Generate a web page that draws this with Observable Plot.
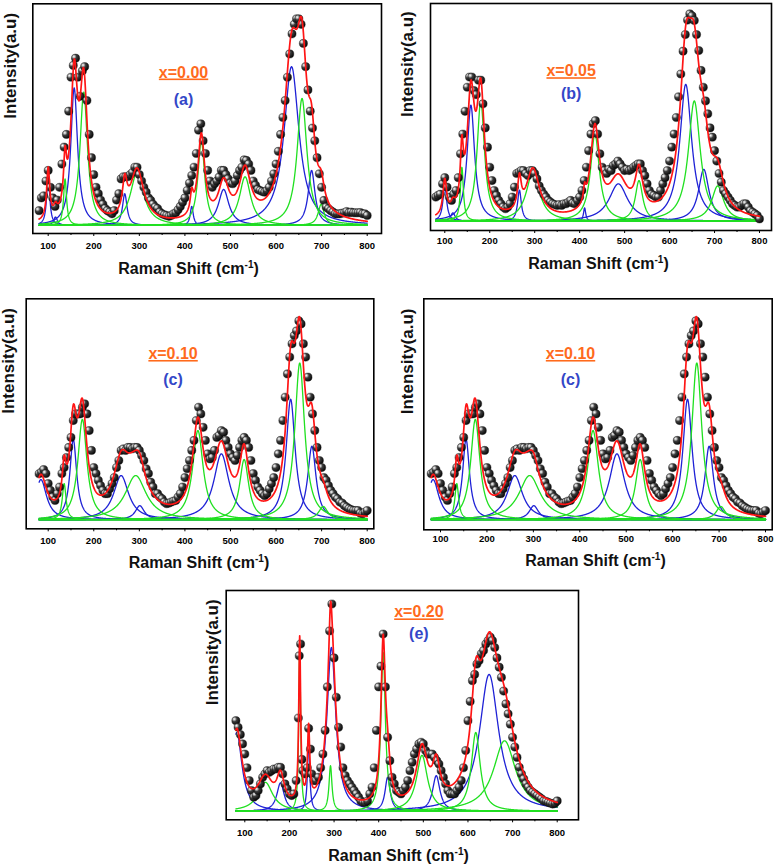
<!DOCTYPE html>
<html><head><meta charset="utf-8">
<script src="https://cdn.jsdelivr.net/npm/d3@7"></script>
<script src="https://cdn.jsdelivr.net/npm/@observablehq/plot@0.6"></script>
<style>
html,body{margin:0;padding:0;background:#fff;}
#fig{position:relative;width:780px;height:867px;overflow:hidden;font-family:"Liberation Sans",Arial,sans-serif;}
#fig svg text{font-weight:bold;}
</style></head><body>
<svg width="0" height="0" style="position:absolute"><defs>
<radialGradient id="ball" cx="0.3" cy="0.3" r="0.8">
<stop offset="0" stop-color="#ffffff"/><stop offset="0.16" stop-color="#bdbdbd"/>
<stop offset="0.4" stop-color="#3c3c3c"/><stop offset="1" stop-color="#000000"/>
</radialGradient></defs></svg>
<div id="fig"></div>
<script>
// ---------- data ----------
const shift = [80,85,90,95,100,105,110,115,120,125,130,135,140,145,150,155,160,165,170,175,180,185,190,195,200,205,210,215,220,225,230,235,240,245,250,255,260,265,270,275,280,285,290,295,300,305,310,315,320,325,330,335,340,345,350,355,360,365,370,375,380,385,390,395,400,405,410,415,420,425,430,435,440,445,450,455,460,465,470,475,480,485,490,495,500,505,510,515,520,525,530,535,540,545,550,555,560,565,570,575,580,585,590,595,600,605,610,615,620,625,630,635,640,645,650,655,660,665,670,675,680,685,690,695,700,705,710,715,720,725,730,735,740,745,750,755,760,765,770,775,780,785,790,795,800];

const intensityA = [7,13,14,21,26,18,13,9,12,18,29,37,43,54,70,75.6,79,70,61,73,75,59,43,32,24,18,15,12,10,8,7,6.3,5.5,7,12,15,22,23,23,23,24,25,27.5,27.5,24,21,18,15.7,13,11.8,10,8.7,8,6.3,5.5,5,4.7,4.3,4.7,5.5,6,7.4,9,11,13,16.5,20,23.6,27.5,34,45,48,40,34,26,21,18,19.7,21,22.8,26,26,24,22,20,19.7,21,23.6,26,27.5,31,30.7,29,26,21,19,17,16.5,16,15.7,16.5,18,21,24.4,29,35,43,51,59,70,81,90.5,95,97.6,97.6,95,86,75,64,54,46,40,32,24.4,18,11.8,8.7,7.9,7,6.3,5.5,5.5,5.5,5.8,6,6.6,6,6.3,6,6,6,6.1,5.5,5.5,4.7];

const intensityB = [11.6,12.4,13,18,21,16.4,11.6,10,13,14.8,21,32.5,42,53,64.6,69.5,69.5,63,61,68,68,56.6,45,35.7,26,19.6,14.8,12.4,10,8.4,6.8,6,6.8,8.4,11.6,16.4,23,23.6,24.4,24.4,23,22,24.4,24.4,23,20.4,17,14.8,13,11.6,10,9.2,8.4,8,7.6,8,7.6,8.4,8.4,9.2,10,8.7,8.4,10,11.6,14.8,19.6,26,34,42,47,48.5,42,32.5,26,24.4,23,25,24.4,26.8,27.6,29,27.6,26,24.4,25,24.4,25,26,26.8,27.6,27.6,24.4,22,18,14.8,13,12.4,11.6,11.6,14.8,18,21,24.4,29,35.7,42,50,60,71,82,90,97,100,99,96.8,90,82.3,72.7,64.6,58,51.8,45,40.5,34,29,23,18.8,14.8,13.2,11.6,10,8.4,7.6,6.8,6.8,7.6,8.4,8.4,6.8,5,4.3,3.5,2.7,1.1];

const intensityC = [22.9,23.7,25,23,18,14.6,11.3,9.6,13,16.3,23,26,31,36,41,49.4,52.7,52.7,52.7,56,57.7,52.7,44.4,34.5,26,23,19.6,17,14.6,13,13,15.4,18,21,26,29.5,34.5,35.3,34.5,36,36,35.3,36,36,34.5,32,29.5,25.4,23,18.7,16.3,13,13,11.3,10.4,8.8,8,8.3,8.8,9.3,9.6,11.3,13,16.3,21,25.4,29.5,34.5,39.5,49.4,56,52.7,46,39.5,32.8,30.3,31,34.5,41,42,44.4,43.6,39.5,36,32.8,31,29.5,32,36,39.5,41,39.5,36,29.5,23,19.6,16.3,14.6,13,12,13,15.4,18,21,26,32.8,39.5,49.4,61,72.6,81,87.6,91.7,94,99,97.5,87.6,81,71,61,52.7,44.4,36,29.5,26,21,19.6,17,14.6,13,11.3,10.4,8.8,8.3,7,6.3,5.5,5,4.6,4.6,4.6,3.3,3,3.8,4.6];

const shiftE = [80,85,90,95,100,105,110,115,120,125,130,135,140,145,150,155,160,165,170,175,180,185,190,195,200,205,210,215,220,222,225,228,230,235,240,243,247,250,255,260,265,270,275,280,285,290,295,300,305,310,315,320,325,330,335,340,345,350,355,360,365,370,375,380,385,390,395,400,405,410,415,420,425,430,435,440,445,450,455,460,465,470,475,480,485,490,495,500,505,510,515,520,525,530,535,540,545,550,555,560,565,570,575,580,585,590,595,600,605,610,615,620,625,630,635,640,645,650,655,660,665,670,675,680,685,690,695,700,705,710,715,720,725,730,735,740,745,750,755,760,765,770,775,780,785,790,795,800];
const intensityE = [43.7,40.5,37,32.5,27.6,21,14.8,10,6.8,7.6,10,13.2,16.4,18,19.6,18.8,19.6,20.4,20.4,21.2,21.2,18,13.2,10.8,8.4,7.6,8.4,14.8,45,75,80.7,25,19.6,18,21,40,30,18,14.8,14.8,16.4,21,27.6,39,60,87,100,74,55,40.5,31,21,17.2,14.8,13.2,11.6,10,8.4,6.8,5,4.3,4.3,5,8.4,11.6,21,39,60,70,85.5,60,35.7,24.4,16.4,13.2,10,9.2,8.4,10,11.6,14.8,19.6,23.6,27.6,30,32.5,33.3,32.5,29.3,27.6,27.6,27.6,26,24.4,22.8,19.6,16.4,13.2,10,8.4,8.4,8.4,10,11.6,14.8,21,29.3,43.7,53,63,66,71,72.7,76,77.5,80.7,82.3,84,82.3,79,74,69.5,64.6,58,51.8,47,42,35.7,31,26,21.2,18,15.6,13.2,11.6,10,9.2,8.4,7.6,6.8,6,5,4.8,4.3,3.9,3.5,3.9,5];

// Lorentzian components: centre (cm-1), height, half width, colour group
const centersA = [100,116,137,157,178,268,295,415,436,485,532,634,657,678,699];
const heightsA = [24,4,22,65,63,15,25,9,40,17,23,75,60,26,10];
const widthsA  = [4,5,4,9,10,6,18,4,9,14,15,20,13,9,8];
const kindsA   = ["b","b","g","b","g","b","g","b","g","b","g","b","g","b","g"];

const centersB = [100,118,138,158,180,266,296,411,434,486,532,636,655,676,707];
const heightsB = [17,4,26,56,58,15,23.6,6.4,42,18,19.6,66,58,25,17];
const widthsB  = [5,6,4,10,10,5,18,3,12,25,10,16,16,14,16];
const kindsB   = ["b","b","g","b","g","b","g","b","g","b","g","b","g","b","g"];

const centersC = [84,135,155,175,260,292,301,428.5,480,530,632,652,678.6,703.5];
const heightsC = [20,18,40,50,22,22,7,44.4,32.8,30,60,78,36.6,6.6];
const widthsC  = [15,5,9,12,20,28,12,14,20,12,12,13,11,12];
const kindsC   = ["b","g","b","g","b","g","b","g","b","g","b","g","b","g"];

const centersE = [82,146,180,223,243,292,294,410,420,497,529,617.5,647.4,682];
const heightsE = [38,14,13.7,79,35,22,79,76.7,16.4,27,17.2,38,66,34];
const widthsE  = [14,20,10,2.5,3,4,12,6,7,15,10,12,26,30];
const kindsE   = ["b","g","b","g","b","g","b","g","b","g","b","g","b","g"];

const majorTicks = [100,200,300,400,500,600,700,800];
const minorTicks = [150,250,350,450,550,650,750];
const xTitle = "Raman Shift (cm-1)";
const yTitle = "Intensity(a.u)";
const compLabels = ["x=0.00","x=0.05","x=0.10","x=0.10","x=0.20"];
const panelTags = ["(a)","(b)","(c)","(c)","(e)"];

// ---------- drawing ----------
const fig = document.getElementById("fig");
const grid = d3.range(80, 800.001, 0.5);

function drawPanel(cfg) {
  const comps = cfg.centers.map((c, i) => ({c, h: cfg.heights[i], w: cfg.widths[i], kind: cfg.kinds[i], id: i}));
  const lor = (cp, x) => cp.h / (1 + ((x - cp.c) / cp.w) ** 2);
  const compRows = comps.flatMap(cp => grid.map(x => ({x, y: lor(cp, x), id: cp.id, kind: cp.kind})));
  const fitRows = grid.map(x => ({x, y: d3.sum(comps, cp => lor(cp, x))}));
  const pts = cfg.shift.map((x, i) => ({x, y: cfg.intensity[i]}));
  const svg = Plot.plot({
    width: cfg.w, height: cfg.h,
    marginLeft: cfg.m[0], marginRight: cfg.m[1], marginTop: cfg.m[2], marginBottom: cfg.m[3],
    style: {fontFamily: '"Liberation Sans", Arial, sans-serif', background: "transparent", overflow: "visible"},
    x: {domain: cfg.xDomain},
    y: {domain: cfg.yDomain, axis: null},
    marks: [
      Plot.line(compRows.filter(d => d.kind === "b"), {x: "x", y: "y", z: "id", stroke: "#1f22d6", strokeWidth: 1.3}),
      Plot.line(compRows.filter(d => d.kind === "g"), {x: "x", y: "y", z: "id", stroke: "#20e020", strokeWidth: 1.3}),
      Plot.dot(pts, {x: "x", y: "y", r: 4.1, fill: "url(#ball)", stroke: "#111", strokeWidth: 0.4}),
      Plot.line(fitRows, {x: "x", y: "y", stroke: "#ff1515", strokeWidth: 1.7}),
      Plot.frame({stroke: "#000", strokeWidth: 1.6}),
      Plot.axisX({ticks: majorTicks, tickSize: 3, tickPadding: cfg.tickPad, fontSize: 9.5, fontWeight: "bold", label: null, tickFormat: d => String(d), stroke: "#000", fill: "#000"}),
      Plot.axisX({ticks: minorTicks, tickSize: 2, tickFormat: () => "", label: null, stroke: "#000"}),
      Plot.text([xTitle], {text: d => d, frameAnchor: "bottom", dy: cfg.xTitleDy, dx: cfg.xTitleDx, fontSize: 16, fontWeight: "bold", lineAnchor: "middle", fill: "#111"}),
      Plot.text([yTitle], {text: d => d, frameAnchor: "left", rotate: -90, dx: -cfg.yTitleDx, fontSize: 17, fontWeight: "bold", lineAnchor: "middle", fill: "#111"}),
      Plot.text([{x: cfg.labelX, y: cfg.compY, t: cfg.comp}], {x: "x", y: "y", text: "t", fontSize: 16, fontWeight: "bold", fill: "#ff6a1c"}),
      Plot.text([{x: cfg.labelX, y: cfg.tagY, t: cfg.tag}], {x: "x", y: "y", text: "t", fontSize: 16, fontWeight: "bold", fill: "#3347c8"})
    ]
  });
  svg.style.position = "absolute";
  svg.style.left = cfg.left + "px";
  svg.style.top = cfg.top + "px";
  d3.select(svg).selectAll("text").each(function() {
    const t = this.textContent;
    if (t === xTitle) {
      const s = d3.select(this);
      s.text("");
      s.append("tspan").text("Raman Shift (cm");
      s.append("tspan").attr("dy", -6).attr("font-size", 10).text("-1");
      s.append("tspan").attr("dy", 6).text(")");
    } else if (compLabels.includes(t)) {
      d3.select(this).style("text-decoration", "underline");
    }
  });
  fig.appendChild(svg);
}

const panels = [
  {left: 0, top: 0, w: 390, h: 280, m: [32.3, 9, 3.3, 47], xDomain: [66.2, 831.4], yDomain: [-3.8, 104.7],
   tickPad: 6, xTitleDy: 35.7, xTitleDx: -18.6, yTitleDx: 22.3, labelX: 397, compY: 72.3, tagY: 59.5,
   shift: shift, intensity: intensityA, centers: centersA, heights: heightsA, widths: widthsA, kinds: kindsA},
  {left: 390, top: 0, w: 390, h: 280, m: [40, 9, 3, 50], xDomain: [68.2, 826.7], yDomain: [-4.5, 105],
   tickPad: 4, xTitleDy: 33.7, xTitleDx: -2.5, yTitleDx: 23.3, labelX: 381, compY: 72.4, tagY: 61.5,
   shift: shift, intensity: intensityB, centers: centersB, heights: heightsB, widths: widthsB, kinds: kindsB},
  {left: 0, top: 280, w: 390, h: 290, m: [25.7, 16.7, 18.3, 41.7], xDomain: [51.7, 814.5], yDomain: [-4.5, 110],
   tickPad: 5.5, xTitleDy: 33.7, xTitleDx: -1, yTitleDx: 17.7, labelX: 374, compY: 82.6, tagY: 69.7,
   shift: shift, intensity: intensityC, centers: centersC, heights: heightsC, widths: widthsC, kinds: kindsC},
  {left: 390, top: 280, w: 390, h: 290, m: [33.3, 8.3, 18.3, 40.7], xDomain: [64, 814.4], yDomain: [-5, 110],
   tickPad: 2.6, xTitleDy: 30.7, xTitleDx: -2.5, yTitleDx: 16.6, labelX: 380, compY: 82.6, tagY: 69.7,
   shift: shift, intensity: intensityC, centers: centersC, heights: heightsC, widths: widthsC, kinds: kindsC},
  {left: 200, top: 580, w: 390, h: 287, m: [25.7, 12, 10, 47.7], xDomain: [58.3, 847.7], yDomain: [-4.1, 106.5],
   tickPad: 6.3, xTitleDy: 36, xTitleDx: -3.8, yTitleDx: 14, labelX: 490, compY: 96, tagY: 85.6,
   shift: shiftE, intensity: intensityE, centers: centersE, heights: heightsE, widths: widthsE, kinds: kindsE}
];
panels.forEach((p, i) => drawPanel({...p, comp: compLabels[i], tag: panelTags[i]}));
</script>
</body></html>
